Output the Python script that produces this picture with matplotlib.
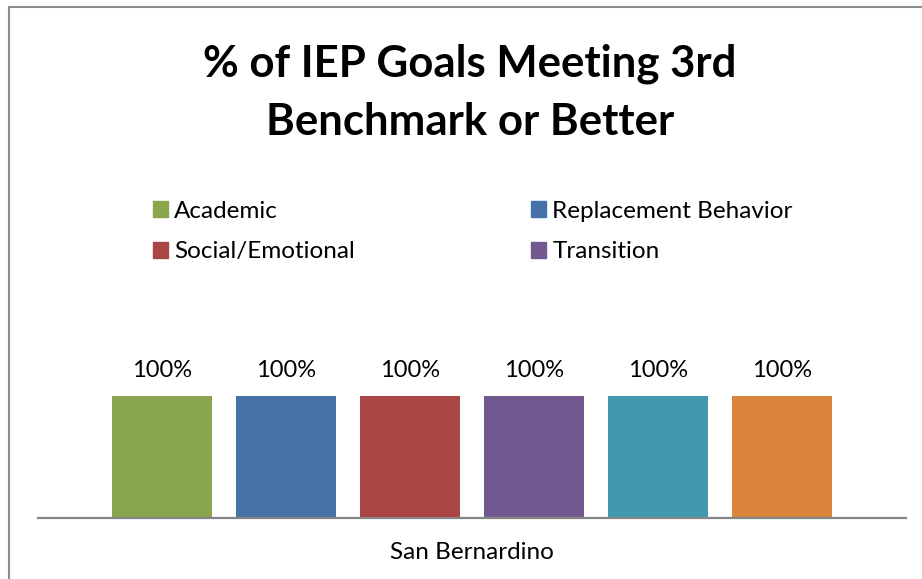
import matplotlib.pyplot as plt
from matplotlib.patches import Rectangle, Patch

categories = ["San Bernardino"]
series_names = ["Academic", "Replacement Behavior", "Social/Emotional", "Transition", "", ""]
values = [1.0, 1.0, 1.0, 1.0, 1.0, 1.0]
value_labels = ["100%", "100%", "100%", "100%", "100%", "100%"]
colors = ["#89A54E", "#4572A7", "#AA4643", "#71588F", "#4198AF", "#DB843D"]

plt.rcParams['font.family'] = ['Lato', 'DejaVu Sans']

W, H = 922, 579
fig = plt.figure(figsize=(W / 100, H / 100), dpi=100)

# chart border (runs off the right/bottom edges like the source)
fig.patches.append(Rectangle((9 / W, -0.1), 1.2, (H - 7) / H + 0.1, transform=fig.transFigure,
                             fill=False, edgecolor="#8c8c8c", linewidth=1.5))

ax = fig.add_axes([38 / W, (H - 518) / H, (906 - 38) / W, 122 / H])

step = 124 / 868
width = 100 / 868
n = len(values)
for i, (v, c, lab) in enumerate(zip(values, colors, value_labels)):
    x = (i - (n - 1) / 2) * step
    ax.bar(x, v, width=width, color=c)
    ax.annotate(lab, (x, v), xytext=(0, 13.5), textcoords="offset points",
                ha="center", va="baseline", fontsize=17)

ax.set_xlim(-0.5, 0.5)
ax.set_ylim(0, 1)
for s in ["top", "left", "right"]:
    ax.spines[s].set_visible(False)
ax.spines["bottom"].set_color("#868686")
ax.spines["bottom"].set_linewidth(1.6)
ax.set_yticks([])
ax.set_xticks([0])
ax.set_xticklabels(categories, fontsize=17.5)
ax.tick_params(axis="x", length=0, pad=17.5)

fig.text(470 / W, 1 - 93 / H, "% of IEP Goals Meeting 3rd\nBenchmark or Better",
         ha="center", va="center", fontsize=31.5, fontweight="bold", linespacing=1.55)

handles = [Patch(color=c) for c in colors]
common = dict(loc="center left", frameon=False, fontsize=17.5, handlelength=0.62,
              handleheight=0.62, handletextpad=0.25, labelspacing=0.82, borderpad=0,
              borderaxespad=0)
fig.legend([handles[0], handles[2]], [series_names[0], series_names[2]],
           bbox_to_anchor=(153 / W, 1 - 231.5 / H), **common)
fig.legend([handles[1], handles[3]], [series_names[1], series_names[3]],
           bbox_to_anchor=(531 / W, 1 - 231.5 / H), **common)

fig.savefig("out.png", dpi=100)
